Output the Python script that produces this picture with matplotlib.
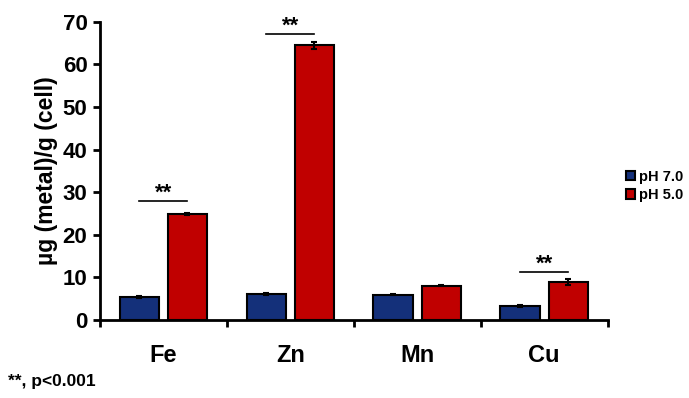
import numpy as np
import matplotlib.pyplot as plt

plt.rcParams['font.family'] = ['Liberation Sans', 'DejaVu Sans']
plt.rcParams['font.weight'] = 'bold'

metals = ['Fe', 'Zn', 'Mn', 'Cu']
ph7 = [5.4, 6.1, 5.9, 3.3]
ph7_err = [0.3, 0.3, 0.1, 0.2]
ph5 = [24.9, 64.5, 8.0, 8.9]
ph5_err = [0.3, 0.8, 0.1, 0.7]
# significance brackets: category index, height
sig_idx = [0, 1, 3]
sig_y = [28.0, 67.2, 11.3]

fig = plt.figure(figsize=(6.89, 3.98), dpi=100)
ax = fig.add_axes([0.145, 0.196, 0.737, 0.749])

x = np.arange(len(metals))
off = 0.19
w = 0.31
ax.bar(x - off, ph7, w, yerr=ph7_err, color='#14307a', edgecolor='black',
       linewidth=1.5, label='pH 7.0',
       error_kw=dict(ecolor='black', elinewidth=1.5, capsize=2, capthick=1.5))
ax.bar(x + off, ph5, w, yerr=ph5_err, color='#c00000', edgecolor='black',
       linewidth=1.5, label='pH 5.0',
       error_kw=dict(ecolor='black', elinewidth=1.5, capsize=2, capthick=1.5))

for i, y in zip(sig_idx, sig_y):
    ax.plot([x[i] - off, x[i] + off], [y, y], color='black', lw=1.2)
    ax.text(x[i], y - 0.6, '**', ha='center', va='bottom', fontsize=16)

ax.set_xlim(-0.5, 3.5)
ax.set_ylim(0, 70)
ax.set_yticks(range(0, 71, 10))
ax.set_xticks(x)
ax.set_xticklabels(metals, fontsize=17, fontweight='bold')
ax.set_xticks(np.arange(-0.5, 3.6, 1), minor=True)
ax.tick_params(axis='x', which='major', length=0, pad=17)
ax.tick_params(axis='x', which='minor', length=5, width=2, direction='out')
ax.tick_params(axis='y', length=5, width=2, labelsize=16, pad=4)
for lab in ax.get_yticklabels():
    lab.set_fontweight('bold')

for s in ['top', 'right']:
    ax.spines[s].set_visible(False)
for s in ['left', 'bottom']:
    ax.spines[s].set_linewidth(2)

ax.set_ylabel('µg (metal)/g (cell)', fontsize=16.5, fontweight='bold', labelpad=3)

ax.legend(loc='center left', bbox_to_anchor=(1.01, 0.45), frameon=False,
          handlelength=0.6, handleheight=0.6, handletextpad=0.3,
          labelspacing=0.3, prop={'weight': 'bold', 'size': 10.5})

fig.text(0.012, 0.03, '**, p<0.001', fontsize=12.5, fontweight='bold')

fig.savefig('out.png', dpi=100)
